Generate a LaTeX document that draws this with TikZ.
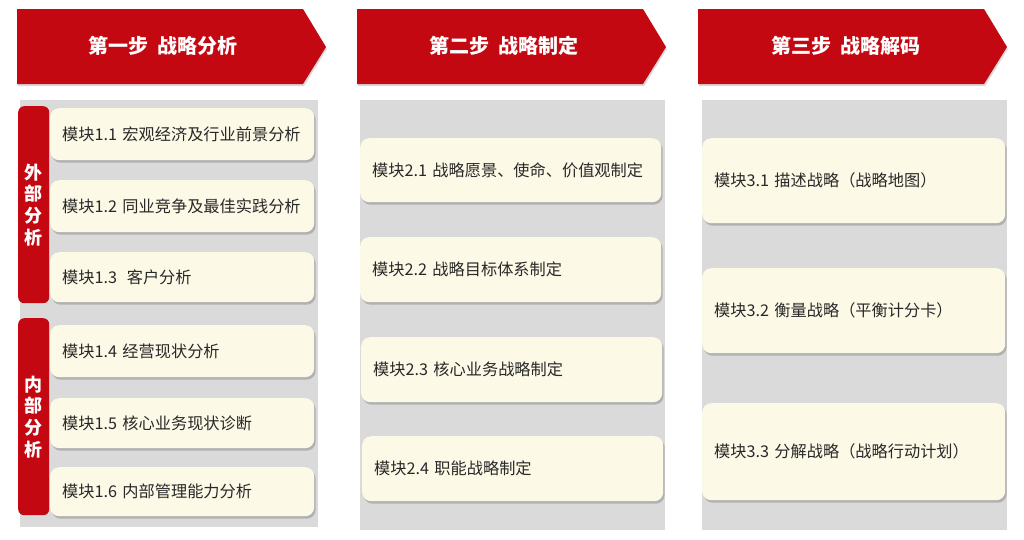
\documentclass[tikz,border=0pt]{standalone}
\usepackage{fontspec}
\setmainfont{Noto Sans CJK SC}
\usetikzlibrary{shadows}

\definecolor{headred}{RGB}{196,8,18}
\definecolor{panelgrey}{RGB}{218,218,218}
\definecolor{modcream}{RGB}{253,249,231}
\definecolor{modtext}{RGB}{40,40,40}

\tikzset{
	stephead/.style={fill=headred, drop shadow={shadow xshift=1pt, shadow yshift=-2pt, opacity=.3}},
	steptext/.style={text=white, font=\fontsize{20}{23}\selectfont\bfseries},
	sidebar/.style={fill=headred, rounded corners=6pt, anchor=north west, align=center, inner sep=0pt,
		text=white, font=\fontsize{18}{21.7}\selectfont\bfseries},
	modbox/.style={fill=modcream, rounded corners=9pt, anchor=north west, align=left,
		inner xsep=12pt, inner ysep=0pt, text=modtext, font=\fontsize{16.2}{19}\selectfont,
		drop shadow={shadow xshift=1.5pt, shadow yshift=-2.5pt, opacity=.45}},
}

\begin{document}
\begin{tikzpicture}[x=1pt, y=-1pt]

	\useasboundingbox (0,0) rectangle (1024,539);

	% step headers
	\fill[stephead] (17,9) -- (303,9) -- (326,47) -- (303,84) -- (17,84) -- cycle;
	\fill[stephead] (357,9) -- (643,9) -- (666,47) -- (643,84) -- (357,84) -- cycle;
	\fill[stephead] (698,9) -- (984,9) -- (1007,47) -- (984,84) -- (698,84) -- cycle;

	\node[steptext] (s1) at (163,46) {第一步\hspace{0.45em}战略分析};
	\node[steptext] (s2) at (504,46) {第二步\hspace{0.45em}战略制定};
	\node[steptext] (s3) at (846,46) {第三步\hspace{0.45em}战略解码};

	% grey panels
	\fill[panelgrey] (20,100) rectangle (318,527);
	\fill[panelgrey] (360,100) rectangle (665,530);
	\fill[panelgrey] (702,100) rectangle (1007,530);

	% column 1
	\node[sidebar, minimum width=31pt, minimum height=197pt] (outer) at (18,106) {外\\部\\分\\析};
	\node[sidebar, minimum width=31pt, minimum height=197pt] (inner) at (18,318) {内\\部\\分\\析};

	\node[modbox, text width=240pt, minimum height=52pt] (m11) at (50,108) {模块1.1 宏观经济及行业前景分析};
	\node[modbox, text width=240pt, minimum height=52pt] (m12) at (50,180) {模块1.2 同业竞争及最佳实践分析};
	\node[modbox, text width=240pt, minimum height=50pt] (m13) at (50,252) {模块1.3\hspace{0.6em}客户分析};
	\node[modbox, text width=240pt, minimum height=52pt] (m14) at (50,325) {模块1.4 经营现状分析};
	\node[modbox, text width=240pt, minimum height=50pt] (m15) at (50,398) {模块1.5 核心业务现状诊断};
	\node[modbox, text width=240pt, minimum height=49pt] (m16) at (50,467) {模块1.6 内部管理能力分析};

	% column 2
	\node[modbox, text width=277pt, minimum height=64pt] (m21) at (360,138) {模块2.1 战略愿景、使命、价值观制定};
	\node[modbox, text width=277pt, minimum height=65pt] (m22) at (360,237) {模块2.2 战略目标体系制定};
	\node[modbox, text width=277pt, minimum height=65pt] (m23) at (361,337) {模块2.3 核心业务战略制定};
	\node[modbox, text width=277pt, minimum height=65pt] (m24) at (362,436) {模块2.4 职能战略制定};

	% column 3
	\node[modbox, text width=279pt, minimum height=85pt] (m31) at (702,138) {模块3.1 描述战略（战略地图）};
	\node[modbox, text width=279pt, minimum height=85pt] (m32) at (702,268) {模块3.2 衡量战略（平衡计分卡）};
	\node[modbox, text width=279pt, minimum height=97pt] (m33) at (702,403) {模块3.3 分解战略（战略行动计划）};

\end{tikzpicture}
\end{document}
